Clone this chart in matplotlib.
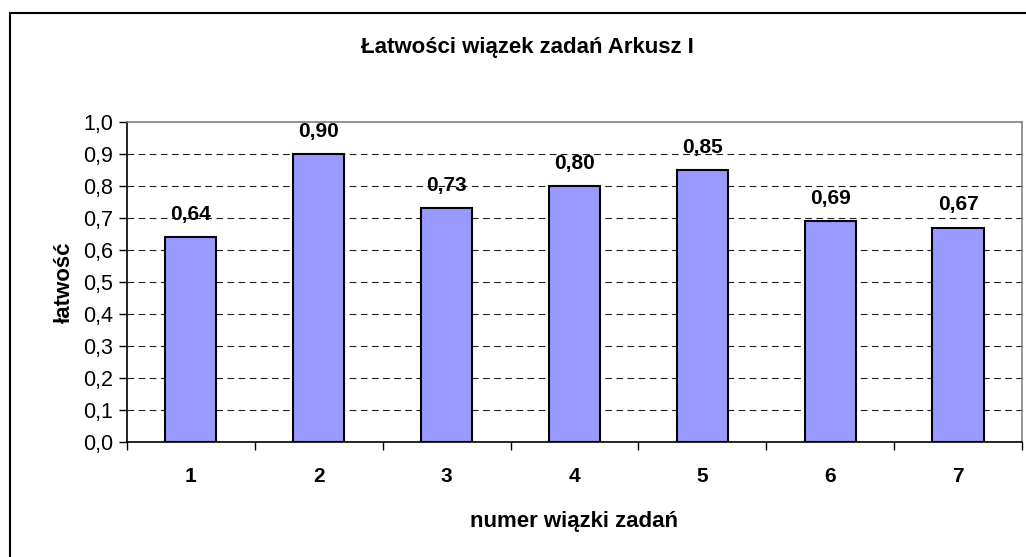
import matplotlib.pyplot as plt
from matplotlib.patches import Rectangle

plt.rcParams['font.family'] = ['Liberation Sans', 'DejaVu Sans']

# data
kategorie = ['1', '2', '3', '4', '5', '6', '7']
latwosc = [0.64, 0.90, 0.73, 0.80, 0.85, 0.69, 0.67]
y_ticks = [i / 10 for i in range(11)]
y_labels = [f"{v:.1f}".replace('.', ',') for v in y_ticks]

fig = plt.figure(figsize=(10.26, 5.57), dpi=100)

# outer chart frame (cut off on right and bottom like the original)
fig.patches.append(Rectangle((10 / 1026, -0.05), 1.2, (557 - 13) / 557 + 0.05,
                             transform=fig.transFigure, fill=False,
                             edgecolor='black', linewidth=1.5))

ax = fig.add_axes([127 / 1026, (557 - 442) / 557, (1022 - 127) / 1026, 320 / 557])

x = list(range(len(kategorie)))
bars = ax.bar(x, latwosc, width=0.4, color='#9999FF', edgecolor='black',
              linewidth=1.5, zorder=3)

for xi, v in zip(x, latwosc):
    ax.text(xi, v + 0.042, f"{v:.2f}".replace('.', ','), ha='center', va='bottom',
            fontsize=15, fontweight='bold')

ax.set_xlim(-0.5, len(kategorie) - 0.5)
ax.set_ylim(0, 1.0)
ax.set_yticks(y_ticks)
ax.set_yticklabels(y_labels, fontsize=15.5)

# grid lines
for v in y_ticks[1:-1]:
    ax.axhline(v, color='#202020', linestyle=(0, (6, 4)), linewidth=0.8, zorder=1)

# x ticks at category boundaries, labels at centers
ax.set_xticks([i - 0.5 for i in range(len(kategorie) + 1)])
ax.set_xticklabels([])
ax.set_xticks(x, minor=True)
ax.set_xticklabels(kategorie, minor=True, fontsize=15, fontweight='bold')
ax.tick_params(axis='x', which='major', direction='out', length=6, width=1)
ax.tick_params(axis='x', which='minor', length=0, pad=18)
ax.tick_params(axis='y', direction='out', length=6, width=1, pad=4)

for s in ['top', 'right']:
    ax.spines[s].set_color('#808080')
    ax.spines[s].set_linewidth(1.2)
for s in ['left', 'bottom']:
    ax.spines[s].set_color('black')
    ax.spines[s].set_linewidth(1.2)

ax.set_xlabel('numer wiązki zadań', fontsize=16, fontweight='bold', labelpad=18)
ax.set_ylabel('łatwość', fontsize=16, fontweight='bold', labelpad=6)

fig.text(527 / 1026, 1 - 48 / 557, 'Łatwości wiązek zadań Arkusz I',
         ha='center', va='center', fontsize=16, fontweight='bold')

fig.savefig('out.png', dpi=100)
